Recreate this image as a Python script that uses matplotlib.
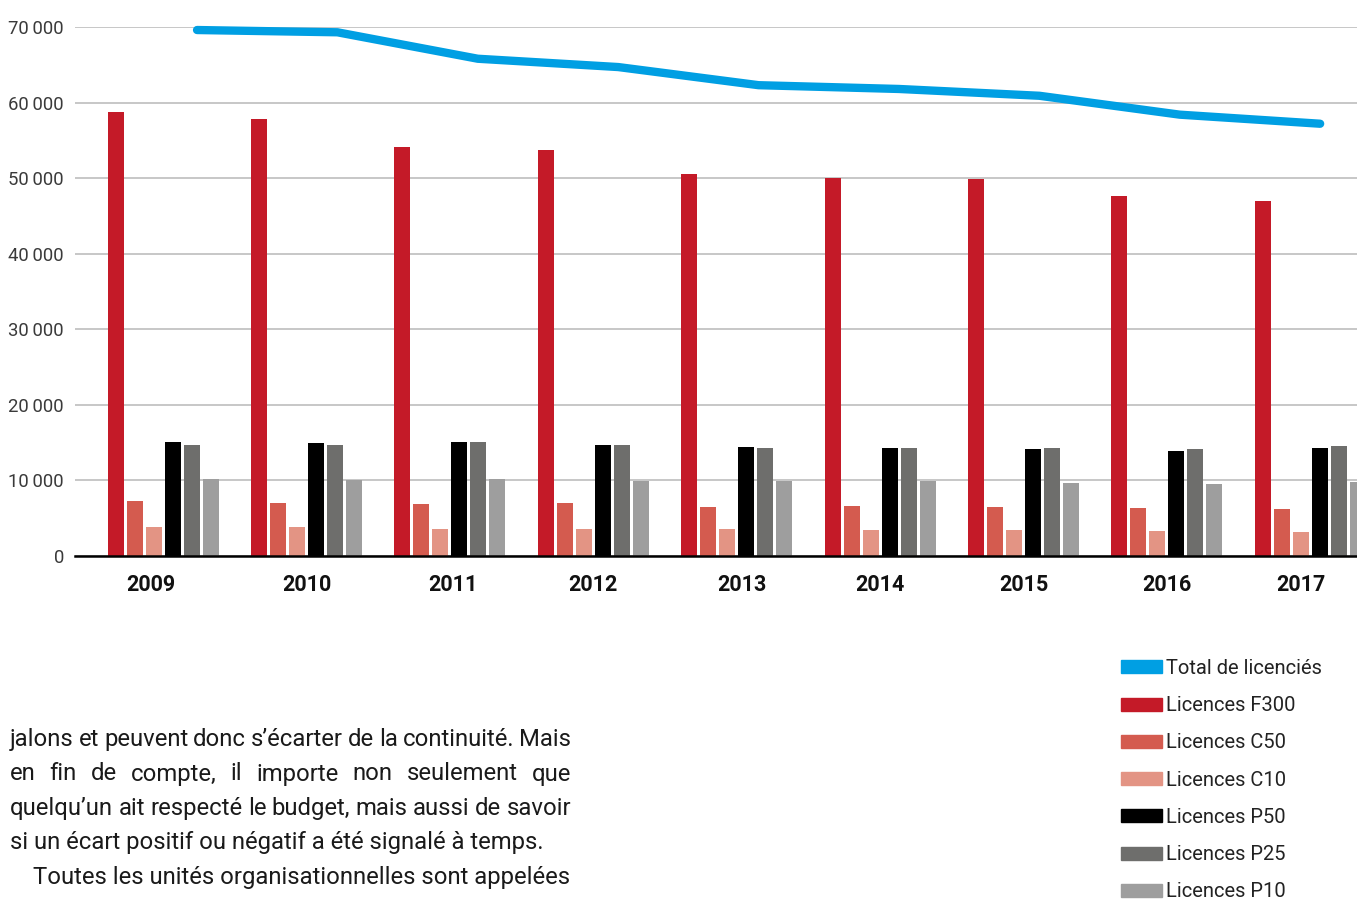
import matplotlib
matplotlib.use("Agg")
import matplotlib.pyplot as plt
from matplotlib.patches import Patch
import numpy as np

plt.rcParams["font.family"] = ["Roboto", "DejaVu Sans"]

years = ["2009", "2010", "2011", "2012", "2013", "2014", "2015", "2016", "2017"]
total = [69600, 69300, 65800, 64700, 62300, 61800, 60900, 58400, 57200]
f300 = [58750, 57830, 54120, 53720, 50550, 50020, 49890, 47640, 46980]
c50 = [7280, 7010, 6880, 7010, 6480, 6620, 6480, 6350, 6220]
c10 = [3840, 3840, 3570, 3570, 3570, 3440, 3440, 3310, 3180]
p50 = [15090, 14950, 15090, 14690, 14420, 14290, 14160, 13890, 14290]
p25 = [14690, 14690, 15090, 14690, 14290, 14290, 14290, 14160, 14560]
p10 = [10190, 10060, 10190, 9920, 9920, 9920, 9660, 9530, 9790]

series_labels = ["Licences F300", "Licences C50", "Licences C10",
                 "Licences P50", "Licences P25", "Licences P10"]
series_colors = ["#c41a28", "#d45b4f", "#e39484", "#000000", "#6e6e6c", "#9e9e9e"]
total_label = "Total de licenciés"
total_color = "#009fe3"

paragraph = [
    "jalons et peuvent donc s’écarter de la continuité. Mais",
    "en fin de compte, il importe non seulement que",
    "quelqu’un ait respecté le budget, mais aussi de savoir",
    "si un écart positif ou négatif a été signalé à temps.",
    "Toutes les unités organisationnelles sont appelées",
]

W, H = 1357, 900
fig = plt.figure(figsize=(W / 100, H / 100), dpi=100)
ax = fig.add_axes([75 / W, 1 - 556 / H, 1 - 75 / W, 529 / H])

x = np.arange(len(years))
pitch, width = 0.1325, 0.112
for k, vals in enumerate([f300, c50, c10, p50, p25, p10]):
    ax.bar(x + (k - 2.5) * pitch, vals, width, color=series_colors[k], zorder=3)
ax.plot(0.237 + 0.979 * x, total, color=total_color, lw=6,
        solid_capstyle="round", solid_joinstyle="round", zorder=4, clip_on=False)

ax.set_xlim(-0.614, 8.326)
ax.set_ylim(0, 70000)
yt = list(range(0, 70001, 10000))
ax.set_yticks(yt)
ax.set_yticklabels([f"{v // 1000}\u2009000" if v else "0" for v in yt],
                   fontsize=13.3, color="#3a3a3a")
# year labels sit slightly off-centre in the original
label_shift = np.array([-0.084, 0, 0.02, 0, 0.035, 0, 0, 0, -0.063])
ax.set_xticks(x + label_shift)
ax.set_xticklabels(years, fontsize=15.5, fontweight="bold", color="#111111")
ax.tick_params(length=0)
ax.tick_params(axis="y", pad=8)
ax.tick_params(axis="x", pad=13)
ax.yaxis.grid(True, color="#bdbdbd", lw=1.2)
ax.set_axisbelow(True)
for s in ["top", "right", "left"]:
    ax.spines[s].set_visible(False)
ax.spines["bottom"].set_color("black")
ax.spines["bottom"].set_linewidth(1.8)
ax.spines["bottom"].set_zorder(5)

handles = [Patch(color=total_color)] + [Patch(color=c) for c in series_colors]
fig.legend(handles, [total_label] + series_labels, loc="upper left",
           bbox_to_anchor=(1121 / W, 1 - 659 / H), frameon=False, fontsize=14.5,
           handlelength=2.04, handleheight=0.62, handletextpad=0.2,
           labelspacing=0.905, borderpad=0, borderaxespad=0,
           labelcolor="#222222")

# paragraph text, justified like the page it came from
renderer = fig.canvas.get_renderer()
kw = dict(fontsize=17.2, color="#1a1a1a", va="baseline", ha="left")
baselines = [746, 780.5, 815, 849.5, 884]
x0, x1 = 10, 571


def word_width(w):
    t = fig.text(0, 0, w, **kw)
    bb = t.get_window_extent(renderer)
    t.remove()
    return bb.width


for i, line in enumerate(paragraph):
    y = 1 - baselines[i] / H
    if i in (0, 1, 2):
        words = line.split()
        widths = [word_width(w) for w in words]
        gap = max((x1 - x0 - sum(widths)) / (len(words) - 1), 3)
        pos = x0
        for w, wd in zip(words, widths):
            fig.text(pos / W, y, w, **kw)
            pos += wd + gap
    else:
        start = x0 + 23 if i == 4 else x0
        fig.text(start / W, y, line, **kw)

fig.savefig("out.png", dpi=100)
